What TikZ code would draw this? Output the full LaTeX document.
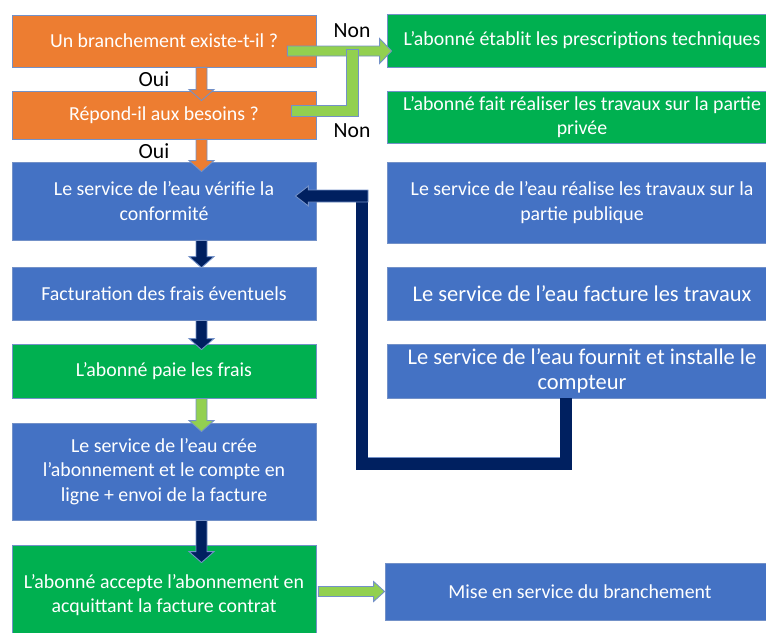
\documentclass[tikz,border=0pt]{standalone}
\usepackage{fontspec}
\setmainfont{Carlito}
\usetikzlibrary{calc}

\definecolor{orangefill}{HTML}{ED7D31}
\definecolor{bluefill}{HTML}{4472C4}
\definecolor{greenfill}{HTML}{00B050}
\definecolor{lightgreen}{HTML}{92D050}
\definecolor{navy}{HTML}{002060}
\definecolor{rim}{HTML}{7391C8}

\tikzset{
	box/.style={draw=rim, line width=0.5pt, text=white, align=center, inner sep=0pt, font=\fontsize{11.3}{13.8}\selectfont},
	left box/.style={box, minimum width=6.08cm},
	right box/.style={box, minimum width=7.8cm},
	big/.style={font=\fontsize{12.8}{14.4}\selectfont},
	answer/.style={inner sep=0pt, font=\fontsize{12.3}{14}\selectfont},
	shaft/.store in=\shafthalf, head/.store in=\headhalf, tiplen/.store in=\headlen,
	shaft=0.11cm, head=0.25cm, tiplen=0.22cm,
	block/.style={draw=rim, line width=0.5pt, fill=#1, to path={let \p1=(\tikztostart), \p2=(\tikztotarget) in
		($(\p1)!\shafthalf!90:(\p2)$) -- ($(\p2)!\headlen!(\p1)!\shafthalf!-90:(\p1)$)
		-- ($(\p2)!\headlen!(\p1)!\headhalf!-90:(\p1)$) -- (\p2)
		-- ($(\p2)!\headlen!(\p1)!\headhalf!90:(\p1)$) -- ($(\p2)!\headlen!(\p1)!\shafthalf!90:(\p1)$)
		-- ($(\p1)!\shafthalf!-90:(\p2)$) -- cycle}},
	bar/.style={draw=#1, line width=0.22cm, line cap=rect, line join=miter, preaction={draw=rim, line width=0.25cm, line cap=rect, line join=miter}},
}

\begin{document}
\begin{tikzpicture}[x=0.02cm, y=-0.02cm]
	\useasboundingbox (0,0) rectangle (766,632);
	\clip (0,0) rectangle (766,632);

	\node[left box, fill=orangefill, minimum height=1.04cm] (LA) at (164,41) {Un branchement existe-t-il ?};
	\node[left box, fill=orangefill, minimum height=0.96cm] (LB) at (164,115) {Répond-il aux besoins ?};
	\node[left box, fill=bluefill, minimum height=1.56cm] (LC) at (164,201) {Le service de l’eau vérifie la\\conformité};
	\node[left box, fill=bluefill, minimum height=1.06cm] (LD) at (164,293.5) {Facturation des frais éventuels};
	\node[left box, fill=greenfill, minimum height=1.08cm] (LE) at (164,371) {L’abonné paie les frais};
	\node[left box, fill=bluefill, minimum height=1.94cm] (LF) at (164,471.5) {Le service de l’eau crée\\l’abonnement et le compte en\\ligne + envoi de la facture};
	\node[left box, fill=greenfill, minimum height=2cm] (LG) at (164,595) {L’abonné accepte l’abonnement en\\acquittant la facture contrat};

	\node[right box, fill=greenfill, minimum height=1.06cm] (RA) at (582,40.5) {L’abonné établit les prescriptions techniques};
	\node[right box, fill=greenfill, minimum height=1.04cm] (RB) at (582,117) {L’abonné fait réaliser les travaux sur la partie\\privée};
	\node[right box, fill=bluefill, minimum height=1.62cm] (RC) at (582,202.5) {Le service de l’eau réalise les travaux sur la\\partie publique};
	\node[right box, big, fill=bluefill, minimum height=1.06cm] (RD) at (582,293.5) {Le service de l’eau facture les travaux};
	\node[right box, big, fill=bluefill, minimum height=1.08cm] (RE) at (582,371) {Le service de l’eau fournit et installe le\\compteur};
	\node[right box, fill=bluefill, minimum height=1.14cm] (RF) at (580,591.5) {Mise en service du branchement};

	\node[answer] (OA) at (154,79) {Oui};
	\node[answer] (OB) at (154,151) {Oui};
	\node[answer] (NA) at (352,31) {Non};
	\node[answer] (NB) at (352,131) {Non};

	\coordinate (SP) at (201.5,0);
	\coordinate (CA) at (297.5,111);
	\coordinate (CB) at (352.5,55.5);
	\coordinate (CC) at (566,404);
	\coordinate (CD) at (362,463.5);
	\coordinate (CE) at (362,202);
	\coordinate (CF) at (368,196);

	\draw[block=orangefill] (LA.south -| SP) to ($(LB.north -| SP)+(0,10)$);
	\draw[block=orangefill] (LB.south -| SP) to ($(LC.north -| SP)+(0,10)$);
	\draw[block=navy] (LC.south -| SP) to ($(LD.north -| SP)+(0,1)$);
	\draw[block=navy] (LD.south -| SP) to ($(LE.north -| SP)+(0,6)$);
	\draw[block=lightgreen] (LE.south -| SP) to ($(LF.north -| SP)+(0,9)$);
	\draw[block=navy] (LF.south -| SP) to ($(LG.north -| SP)+(0,18)$);

	\draw[block=lightgreen, shaft=0.1cm, tiplen=0.24cm] ($(LA.east)+(-29,10)$) to ($(RA.west)+(5,10.5)$);
	\draw[bar=lightgreen, line width=0.21cm] (CA) -| (CB);
	\draw[block=lightgreen, shaft=0.1cm, head=0.2cm] ($(LG.east |- RF.west)+(2,0)$) to (RF.west);

	\draw[bar=navy, line width=0.24cm] (CC) |- (CD) -- (CE);
	\draw[block=navy, shaft=0.12cm, head=0.2cm, tiplen=0.26cm] (CF) to ($(LC.east)+(-21,-5)$);
\end{tikzpicture}
\end{document}
